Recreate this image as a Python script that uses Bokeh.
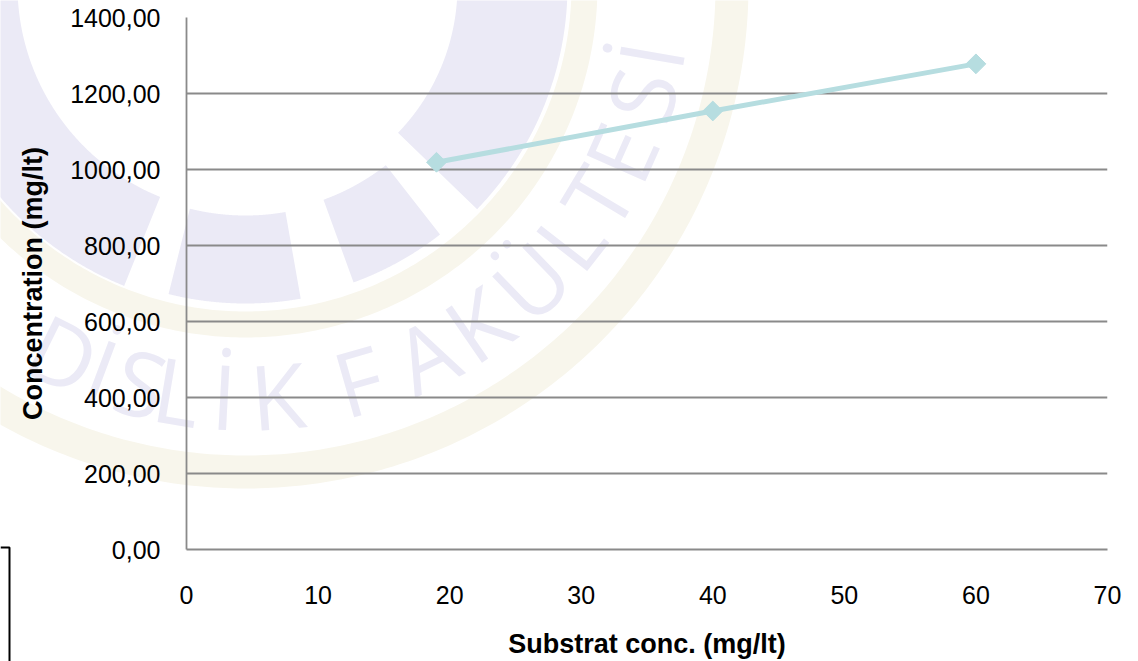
import numpy as np
from bokeh.plotting import figure
from bokeh.layouts import column
from bokeh.models import Range1d, FixedTicker
from bokeh.core.properties import value
from bokeh.embed import file_html
from bokeh.resources import INLINE

# --- data -------------------------------------------------------------
substrate = [19, 40, 60]                 # mg/lt
concentration = [1019, 1154, 1278]       # mg/lt

x_ticks = [0, 10, 20, 30, 40, 50, 60, 70]
y_ticks = [0, 200, 400, 600, 800, 1000, 1200, 1400]
y_tick_labels = ["0,00", "200,00", "400,00", "600,00", "800,00",
                 "1000,00", "1200,00", "1400,00"]

W, H = 1138, 661
FONT = "Liberation Sans"
GRID = "#8a8a8a"
SERIES = "#b6dde0"
CREAM = "#f8f6ec"
LAVENDER = "#ebeaf6"

# --- background layer: faint faculty seal, in pixel coordinates --------
bg = figure(width=W, height=H, output_backend="svg", toolbar_location=None,
            x_range=Range1d(0, W), y_range=Range1d(H, 0),
            x_axis_type=None, y_axis_type=None, min_border=0,
            frame_align=False)
bg.grid.visible = False
bg.outline_line_color = None
bg.background_fill_color = "white"
bg.border_fill_color = "white"

cx, cy = 245.0, -15.0          # seal centre (px, y down)


def band(r_in, r_out, a0, a1, n=200):
    t = np.deg2rad(np.linspace(a0, a1, n))
    xs = np.concatenate([cx + r_out * np.cos(t), cx + r_in * np.cos(t[::-1])])
    ys = np.concatenate([cy + r_out * np.sin(t), cy + r_in * np.sin(t[::-1])])
    return list(xs), list(ys)


# cream rings
for r_in, r_out in [(470, 503), (326, 352)]:
    xs, ys = band(r_in, r_out, -10, 190, 300)
    bg.patch(xs, ys, fill_color=CREAM, line_color=None)

# lavender lobes inside the inner ring
for r_in, r_out, a0, a1 in [(212, 322, -2, 44), (228, 316, 52, 70),
                            (230, 318, 80, 104), (228, 324, 112, 190)]:
    xs, ys = band(r_in, r_out, a0, a1)
    bg.patch(xs, ys, fill_color=LAVENDER, line_color=None)

# lettering round the seal
seal_text = ["D", "İ", "S", "L", "İ", "K", "F", "A", "K", "Ü", "L", "T", "E", "S", "İ"]
seal_angles = [116.3, 110.5, 104.8, 99.5, 93, 85.5, 74, 64, 55.5, 46, 38, 31, 24, 15.5, 9.8]
t = np.deg2rad(seal_angles)
bg.text(x=list(cx + 410 * np.cos(t)), y=list(cy + 410 * np.sin(t)), text=seal_text,
        angle=list(np.deg2rad(90 - np.array(seal_angles))),
        text_align="center", text_baseline="middle",
        text_font=value("Open Sans"), text_font_size="90px", text_color=LAVENDER)

# small framed box at the lower-left edge
bg.line([0, 9, 9], [547, 547, H], line_color="black", line_width=2)

# --- chart layer --------------------------------------------------------
p = figure(width=W, height=H, output_backend="svg", toolbar_location=None,
           x_range=Range1d(0, 70), y_range=Range1d(0, 1400),
           min_border_left=186, min_border_right=31,
           min_border_top=17, min_border_bottom=107,
           margin=(-H, 0, 0, 0), frame_align=False)
p.outline_line_color = None
p.background_fill_color = None
p.border_fill_color = None

p.line(substrate, concentration, line_color=SERIES, line_width=5)
p.scatter(substrate, concentration, marker="square", angle=np.pi / 4, size=14,
          fill_color=SERIES, line_color=SERIES)

p.xaxis.ticker = FixedTicker(ticks=x_ticks)
p.yaxis.ticker = FixedTicker(ticks=y_ticks)
p.yaxis.major_label_overrides = {v: s for v, s in zip(y_ticks, y_tick_labels)}

p.xgrid.visible = False
p.ygrid.grid_line_color = GRID
p.ygrid.grid_line_width = 1.8

for ax in (p.xaxis[0], p.yaxis[0]):
    ax.axis_line_color = GRID
    ax.axis_line_width = 1.8
    ax.major_tick_line_color = None
    ax.minor_tick_line_color = None
    ax.major_label_text_font = FONT
    ax.major_label_text_font_size = "25px"
    ax.major_label_text_color = "black"
    ax.axis_label_text_font = FONT
    ax.axis_label_text_font_size = "27px"
    ax.axis_label_text_font_style = "bold"
    ax.axis_label_text_color = "black"

p.xaxis.axis_label = "Substrat conc. (mg/lt)"
p.yaxis.axis_label = "Concentration (mg/lt)"
p.xaxis.major_label_standoff = 30
p.yaxis.major_label_standoff = 20
p.xaxis.axis_label_standoff = 22
p.yaxis.axis_label_standoff = 19

open("out.html", "w").write(file_html(column(bg, p), INLINE))
